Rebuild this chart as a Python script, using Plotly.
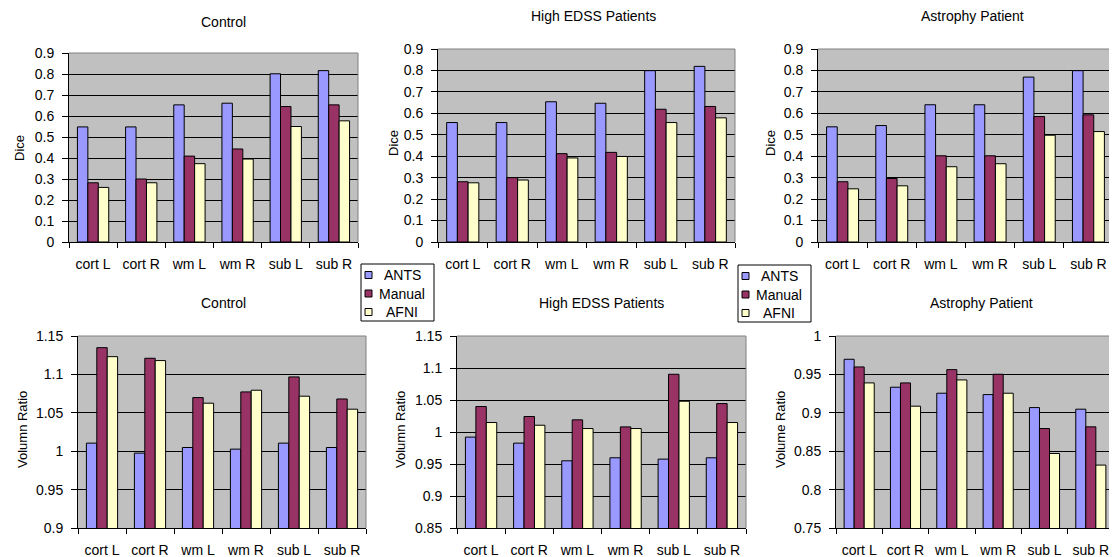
import plotly.graph_objects as go

# The page keeps the browser's default 8px body margin, so the figure is
# sized to fill the rest of the 1117x557 window.
PAGE_W, PAGE_H = 1117, 557
OFF = 8
W, H = PAGE_W - OFF, PAGE_H - OFF

categories = ["cort L", "cort R", "wm L", "wm R", "sub L", "sub R"]
series_names = ["ANTS", "Manual", "AFNI"]

# Dice
control_dice_ants = [0.548, 0.548, 0.653, 0.661, 0.801, 0.816]
control_dice_manual = [0.282, 0.300, 0.409, 0.443, 0.645, 0.653]
control_dice_afni = [0.260, 0.282, 0.373, 0.395, 0.550, 0.577]

edss_dice_ants = [0.557, 0.557, 0.654, 0.647, 0.799, 0.819]
edss_dice_manual = [0.281, 0.300, 0.412, 0.418, 0.619, 0.632]
edss_dice_afni = [0.276, 0.289, 0.392, 0.399, 0.557, 0.579]

atrophy_dice_ants = [0.537, 0.543, 0.640, 0.640, 0.769, 0.799]
atrophy_dice_manual = [0.281, 0.296, 0.402, 0.402, 0.585, 0.593]
atrophy_dice_afni = [0.248, 0.262, 0.351, 0.365, 0.498, 0.515]

# Volume ratio
control_vol_ants = [1.0105, 0.9975, 1.0048, 1.0027, 1.0105, 1.0048]
control_vol_manual = [1.1348, 1.1210, 1.0698, 1.0772, 1.0967, 1.0680]
control_vol_afni = [1.1231, 1.1180, 1.0625, 1.0794, 1.0716, 1.0547]

edss_vol_ants = [0.9920, 0.9826, 0.9550, 0.9597, 0.9576, 0.9597]
edss_vol_manual = [1.0398, 1.0242, 1.0190, 1.0080, 1.0902, 1.0444]
edss_vol_afni = [1.0148, 1.0106, 1.0054, 1.0054, 1.0481, 1.0148]

atrophy_vol_ants = [0.9697, 0.9333, 0.9255, 0.9237, 0.9068, 0.9047]
atrophy_vol_manual = [0.9597, 0.9389, 0.9562, 0.9502, 0.8795, 0.8817]
atrophy_vol_afni = [0.9389, 0.9086, 0.9428, 0.9255, 0.8470, 0.8319]

panel_titles = ["Control", "High EDSS Patients", "Astrophy Patient",
                "Control", "High EDSS Patients", "Astrophy Patient"]
y_titles = ["Dice", "Dice", "Dice", "Volumn Ratio", "Volumn Ratio", "Volume Ratio"]
y_ranges = [[0, 0.9], [0, 0.9], [0, 0.9], [0.9, 1.15], [0.85, 1.15], [0.75, 1.0]]
y_dticks = [0.1, 0.1, 0.1, 0.05, 0.05, 0.05]

panels = [
    [control_dice_ants, control_dice_manual, control_dice_afni],
    [edss_dice_ants, edss_dice_manual, edss_dice_afni],
    [atrophy_dice_ants, atrophy_dice_manual, atrophy_dice_afni],
    [control_vol_ants, control_vol_manual, control_vol_afni],
    [edss_vol_ants, edss_vol_manual, edss_vol_afni],
    [atrophy_vol_ants, atrophy_vol_manual, atrophy_vol_afni],
]

colors = ["#9999FF", "#993366", "#FFFFCC"]

# page-pixel boxes (left, right, top, bottom)
boxes = [
    (69, 358, 53, 242),
    (438, 735, 49, 242),
    (818, 1113, 49, 242),
    (78, 366, 336, 528),
    (457, 746, 336, 528),
    (836, 1114, 336, 528),
]
title_pos = [(223, 22), (593, 16), (972, 16), (223, 303), (601, 303), (981, 303)]
ytitle_pos = [(19, 148), (393, 143), (770, 143), (22, 430), (400, 430), (780, 430)]

# legend boxes (left, top)
legend_origins = [(361, 264), (738, 265)]

FONT = "Liberation Sans, Arial, sans-serif"


def px(x):
    return (x - OFF) / W


def py(y):
    return 1 - (y - OFF) / H


fig = go.Figure()
layout = {}
annotations = []
shapes = []

for i, (series, box) in enumerate(zip(panels, boxes)):
    n = i + 1
    xa = "x" if n == 1 else f"x{n}"
    ya = "y" if n == 1 else f"y{n}"
    for name, vals, col in zip(series_names, series, colors):
        fig.add_trace(go.Bar(
            x=categories, y=vals, name=name, xaxis=xa, yaxis=ya,
            marker=dict(color=col, line=dict(color="black", width=1)),
            showlegend=False,
        ))
    l, r, t, b = box
    xkey = "xaxis" if n == 1 else f"xaxis{n}"
    ykey = "yaxis" if n == 1 else f"yaxis{n}"
    layout[xkey] = dict(
        domain=[px(l), min(px(r), 1.0)], anchor=ya, type="category",
        showline=True, linecolor="black", linewidth=1,
        ticks="outside", tickson="boundaries", ticklen=5, tickcolor="black",
        tickfont=dict(family=FONT, size=14, color="black"),
        tickangle=0, automargin=False,
        ticklabelstandoff=9, showgrid=False, fixedrange=True,
    )
    layout[ykey] = dict(
        domain=[py(b), py(t)], anchor=xa,
        range=y_ranges[i], dtick=y_dticks[i], tick0=0,
        showline=True, linecolor="black", linewidth=1,
        ticks="outside", ticklen=6, tickcolor="black",
        tickfont=dict(family=FONT, size=14, color="black"),
        ticklabelstandoff=5, automargin=False,
        showgrid=True, gridcolor="black", gridwidth=1, zeroline=False,
        fixedrange=True,
    )
    tx, ty = title_pos[i]
    annotations.append(dict(
        text=panel_titles[i], x=px(tx), y=py(ty), xref="paper", yref="paper",
        showarrow=False, xanchor="center", yanchor="middle",
        font=dict(family=FONT, size=14, color="black"),
    ))
    ax_, ay_ = ytitle_pos[i]
    annotations.append(dict(
        text=y_titles[i], x=px(ax_), y=py(ay_), xref="paper", yref="paper",
        showarrow=False, xanchor="center", yanchor="middle", textangle=-90,
        font=dict(family=FONT, size=13, color="black"),
    ))
    shapes.append(dict(
        type="line", xref=f"{xa} domain", yref=f"{ya} domain",
        x0=1, x1=1, y0=0, y1=1, line=dict(color="#808080", width=1),
    ))
    shapes.append(dict(
        type="line", xref=f"{xa} domain", yref=f"{ya} domain",
        x0=0, x1=1, y0=1, y1=1, line=dict(color="#808080", width=1),
    ))

# Legends drawn as boxes with swatches (two copies, as in the reference)
for (lx, ly) in legend_origins:
    shapes.append(dict(
        type="rect", xref="paper", yref="paper",
        x0=px(lx), x1=px(lx + 73), y0=py(ly + 57), y1=py(ly),
        line=dict(color="black", width=1), fillcolor="white", layer="above",
    ))
    for k, (name, col) in enumerate(zip(series_names, colors)):
        cy = ly + 11 + k * 18.5
        shapes.append(dict(
            type="rect", xref="paper", yref="paper",
            x0=px(lx + 4), x1=px(lx + 11),
            y0=py(cy + 3.5), y1=py(cy - 3.5),
            line=dict(color="black", width=1), fillcolor=col, layer="above",
        ))
        annotations.append(dict(
            text=name, x=px(lx + 41), y=py(cy), xref="paper", yref="paper",
            showarrow=False, xanchor="center", yanchor="middle",
            font=dict(family=FONT, size=14, color="black"),
        ))

fig.update_layout(
    width=W, height=H,
    margin=dict(l=0, r=0, t=0, b=0, autoexpand=False),
    paper_bgcolor="white", plot_bgcolor="#C0C0C0",
    barmode="group", bargap=0.35, bargroupgap=0,
    annotations=annotations, shapes=shapes,
    showlegend=False,
    **layout,
)

fig.write_html("out.html")
